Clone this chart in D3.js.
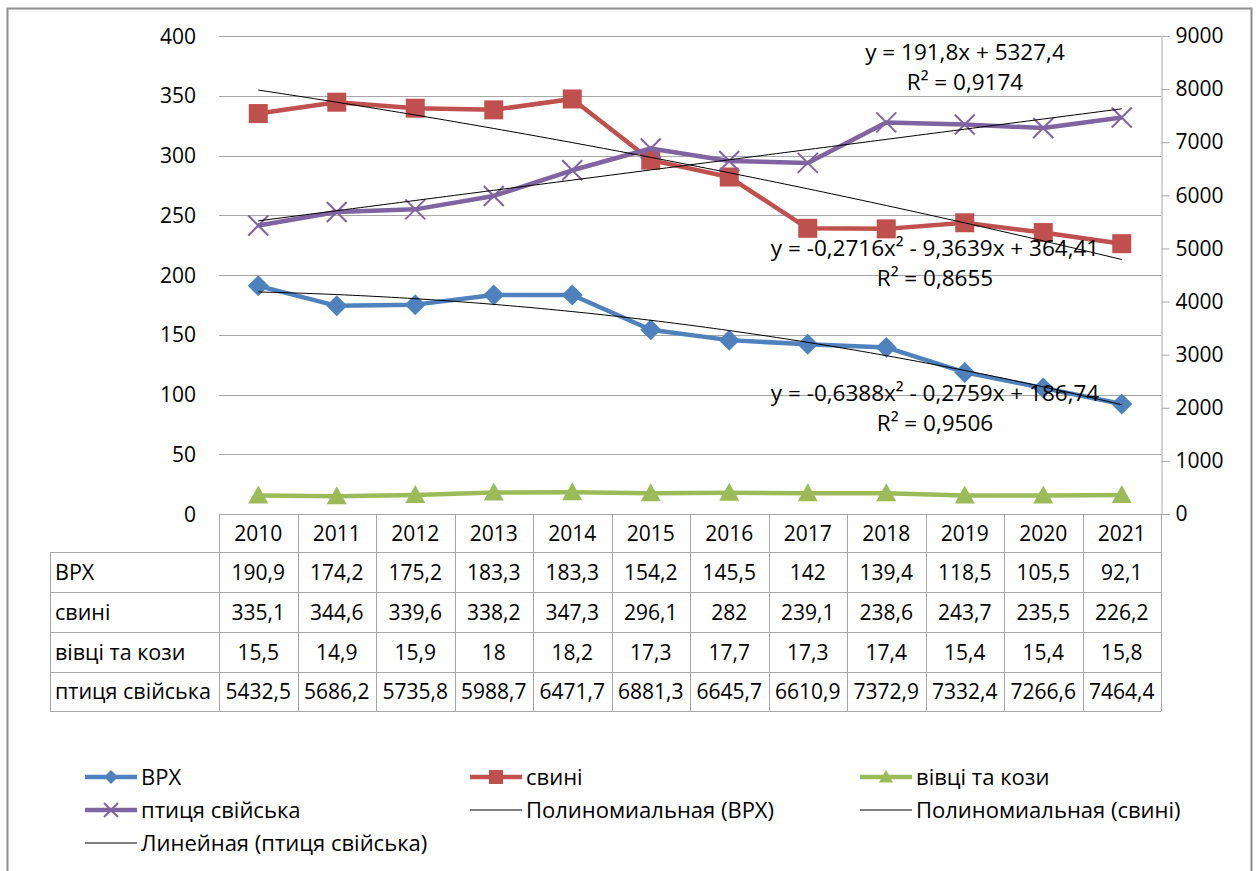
<!DOCTYPE html>
<meta charset="utf-8">
<style>
  body { margin: 0; background: #fff; }
  svg text { font-family: 'Open Sans', 'Noto Sans', sans-serif; fill: #000; }
</style>
<script src="https://cdn.jsdelivr.net/npm/d3@7"></script>
<div id="chart"></div>
<script>
// data
var years = [2010, 2011, 2012, 2013, 2014, 2015, 2016, 2017, 2018, 2019, 2020, 2021];
var vrh = [190.9, 174.2, 175.2, 183.3, 183.3, 154.2, 145.5, 142, 139.4, 118.5, 105.5, 92.1];
var svyni = [335.1, 344.6, 339.6, 338.2, 347.3, 296.1, 282, 239.1, 238.6, 243.7, 235.5, 226.2];
var vivtsi = [15.5, 14.9, 15.9, 18, 18.2, 17.3, 17.7, 17.3, 17.4, 15.4, 15.4, 15.8];
var ptytsia = [5432.5, 5686.2, 5735.8, 5988.7, 6471.7, 6881.3, 6645.7, 6610.9, 7372.9, 7332.4, 7266.6, 7464.4];
var seriesNames = ["ВРХ", "свині", "вівці та кози", "птиця свійська"];
var leftTicks = [0, 50, 100, 150, 200, 250, 300, 350, 400];
var rightTicks = [0, 1000, 2000, 3000, 4000, 5000, 6000, 7000, 8000, 9000];

// trendline coefficients as shown on the chart (x = 1..12), highest power first
var trendVrh = [-0.6388, -0.2759, 186.74];
var trendSvyni = [-0.2716, -9.3639, 364.41];
var trendPtytsia = [191.8, 5327.4];
var trendLabels = [
  ["y = 191,8x + 5327,4", "R² = 0,9174"],
  ["y = -0,2716x² - 9,3639x + 364,41", "R² = 0,8655"],
  ["y = -0,6388x² - 0,2759x + 186,74", "R² = 0,9506"]
];
var legendNames = ["ВРХ", "свині", "вівці та кози", "птиця свійська",
  "Полиномиальная (ВРХ)", "Полиномиальная (свині)", "Линейная (птиця свійська)"];

var W = 1259, H = 871;
var plot = {left: 219, right: 1161, top: 36, bottom: 514};
var colors = {blue: "#4f81bd", red: "#c0504d", green: "#9bbb59", purple: "#8064a2"};
var gridColor = "#a6a6a6";

var svg = d3.select("#chart").append("svg")
  .attr("width", W).attr("height", H);

// outer frame
svg.append("rect")
  .attr("x", 7.5).attr("y", 8.5).attr("width", 1244).attr("height", 880)
  .attr("fill", "#fff").attr("stroke", "#8c8c8c").attr("stroke-width", 2);

var x = d3.scaleBand().domain(years).range([plot.left, plot.right]);
var cx = function(i) { return x(years[i]) + x.bandwidth() / 2; };
var yL = d3.scaleLinear().domain([0, 400]).range([plot.bottom, plot.top]);
var yR = d3.scaleLinear().domain([0, 9000]).range([plot.bottom, plot.top]);
var fmt = function(v) { return String(v).replace(".", ","); };

// gridlines
svg.append("g").selectAll("line").data(leftTicks).join("line")
  .attr("x1", plot.left).attr("x2", plot.right)
  .attr("y1", d => Math.round(yL(d)) + 0.5).attr("y2", d => Math.round(yL(d)) + 0.5)
  .attr("stroke", gridColor);

// left axis labels
svg.append("g").selectAll("text").data(leftTicks).join("text")
  .attr("x", 196).attr("y", d => yL(d)).attr("dy", "0.36em")
  .attr("text-anchor", "end").style("font-size", "21px")
  .text(d => d);

// right axis
var rAxis = svg.append("g").attr("transform", "translate(" + (plot.right + 0.5) + ",0)")
  .call(d3.axisRight(yR).tickValues(rightTicks).tickSize(8).tickPadding(6).tickFormat(d => d));
rAxis.select(".domain").attr("stroke", gridColor);
rAxis.selectAll(".tick line").attr("stroke", gridColor);
rAxis.selectAll(".tick text").style("font-size", "21px").attr("fill", "#000");

// data table
var rowEdges = [514, 552, 592, 632, 672, 711];
var tableLeft = 50;
var tbl = svg.append("g");
var vals = [vrh, svyni, vivtsi, ptytsia];
// horizontal lines
tbl.selectAll("line.h").data(rowEdges).join("line").attr("class", "h")
  .attr("x1", (d, i) => i === 0 ? plot.left : tableLeft)
  .attr("x2", (d, i) => i === 0 ? plot.right + 8 : plot.right)
  .attr("y1", d => d + 0.5).attr("y2", d => d + 0.5)
  .attr("stroke", gridColor);
// vertical lines
var colEdges = years.map(d => x(d)).concat([plot.right]);
tbl.selectAll("line.v").data(colEdges).join("line").attr("class", "v")
  .attr("x1", d => Math.round(d) + 0.5).attr("x2", d => Math.round(d) + 0.5)
  .attr("y1", rowEdges[0]).attr("y2", rowEdges[5]).attr("stroke", gridColor);
tbl.append("line").attr("x1", tableLeft + 0.5).attr("x2", tableLeft + 0.5)
  .attr("y1", rowEdges[1]).attr("y2", rowEdges[5]).attr("stroke", gridColor);
// year headers
tbl.selectAll("text.yr").data(years).join("text").attr("class", "yr")
  .attr("x", (d, i) => cx(i)).attr("y", (rowEdges[0] + rowEdges[1]) / 2).attr("dy", "0.36em")
  .attr("text-anchor", "middle").style("font-size", "21px").text(d => d);
vals.forEach(function(arr, r) {
  var yc = (rowEdges[r + 1] + rowEdges[r + 2]) / 2;
  tbl.append("text").attr("x", 55).attr("y", yc).attr("dy", "0.36em")
    .style("font-size", "21.5px").text(seriesNames[r]);
  tbl.selectAll("text.v" + r).data(arr).join("text").attr("class", "v" + r)
    .attr("x", (d, i) => cx(i)).attr("y", yc).attr("dy", "0.36em")
    .attr("text-anchor", "middle").style("font-size", "21px").text(d => fmt(d));
});

// marker shapes
function marker(g, type, color, px, py, s) {
  if (type === "diamond") {
    g.append("path").attr("d", "M" + px + "," + (py - s) + "L" + (px + s) + "," + py + "L" + px + "," + (py + s) + "L" + (px - s) + "," + py + "Z")
      .attr("fill", color);
  } else if (type === "square") {
    g.append("rect").attr("x", px - s).attr("y", py - s).attr("width", 2 * s).attr("height", 2 * s)
      .attr("fill", color);
  } else if (type === "triangle") {
    g.append("path").attr("d", "M" + px + "," + (py - s) + "L" + (px + s) + "," + (py + s * 0.8) + "L" + (px - s) + "," + (py + s * 0.8) + "Z")
      .attr("fill", color);
  } else if (type === "x") {
    g.append("path").attr("d", "M" + (px - s) + "," + (py - s) + "L" + (px + s) + "," + (py + s) + "M" + (px + s) + "," + (py - s) + "L" + (px - s) + "," + (py + s))
      .attr("stroke", color).attr("stroke-width", 2).attr("fill", "none");
  }
}

var series = [
  {data: vrh, y: yL, color: colors.blue, marker: "diamond", size: 10.5},
  {data: svyni, y: yL, color: colors.red, marker: "square", size: 9.5},
  {data: vivtsi, y: yL, color: colors.green, marker: "triangle", size: 10},
  {data: ptytsia, y: yR, color: colors.purple, marker: "x", size: 10}
];

series.forEach(function(s) {
  var line = d3.line().x((d, i) => cx(i)).y(d => s.y(d));
  svg.append("path").datum(s.data).attr("d", line)
    .attr("fill", "none").attr("stroke", s.color).attr("stroke-width", 4.5)
    .attr("stroke-linejoin", "round");
  var g = svg.append("g");
  s.data.forEach(function(d, i) { marker(g, s.marker, s.color, cx(i), s.y(d), s.size); });
});

// trendlines (x = 1..12 at category centres)
var tx = d3.scaleLinear().domain([1, 12]).range([cx(0), cx(11)]);
var samples = d3.range(1, 12.01, 0.1);
function poly(c, t) { return c.reduce((acc, k) => acc * t + k, 0); }
[[trendVrh, yL], [trendSvyni, yL], [trendPtytsia, yR]].forEach(function(tr) {
  svg.append("path").datum(samples)
    .attr("d", d3.line().x(t => tx(t)).y(t => tr[1](poly(tr[0], t))))
    .attr("fill", "none").attr("stroke", "#000").attr("stroke-width", 1);
});

// trendline labels
var labelPos = [[965, 52], [935, 248], [935, 393]];
trendLabels.forEach(function(lbl, i) {
  lbl.forEach(function(t, j) {
    svg.append("text").attr("x", labelPos[i][0]).attr("y", labelPos[i][1] + j * 30)
      .attr("dy", "0.36em").attr("text-anchor", "middle").style("font-size", "22.5px").text(t);
  });
});

// legend
var legendPos = [[85, 777], [470, 777], [860, 777], [85, 810], [470, 810], [860, 810], [85, 843]];
var legendStyle = [
  {color: colors.blue, w: 4.5, marker: "diamond", s: 7},
  {color: colors.red, w: 4.5, marker: "square", s: 7},
  {color: colors.green, w: 4.5, marker: "triangle", s: 7},
  {color: colors.purple, w: 4.5, marker: "x", s: 7},
  {color: "#000", w: 1}, {color: "#000", w: 1}, {color: "#000", w: 1}
];
var lg = svg.append("g");
legendNames.forEach(function(name, i) {
  var p = legendPos[i], st = legendStyle[i];
  lg.append("line").attr("x1", p[0]).attr("x2", p[0] + 52).attr("y1", p[1]).attr("y2", p[1])
    .attr("stroke", st.color).attr("stroke-width", st.w);
  if (st.marker) marker(lg, st.marker, st.color, p[0] + 26, p[1], st.s);
  lg.append("text").attr("x", p[0] + 56).attr("y", p[1]).attr("dy", "0.36em")
    .style("font-size", "22px").text(name);
});
</script>
